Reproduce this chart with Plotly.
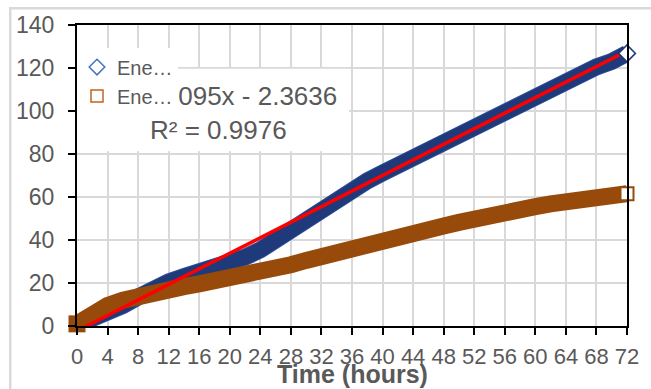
import plotly.graph_objects as go

# ---- data ----
hours = [0, 2, 4, 6, 8, 10, 12, 14, 16, 18, 20, 22, 24, 26, 28, 30, 32, 34, 36,
         38, 40, 42, 44, 46, 48, 50, 52, 54, 56, 58, 60, 62, 64, 66, 68, 70, 72]
series_blue = [0.5, 3, 6, 9.5, 13.5, 17.5, 20.5, 23, 25, 27.5, 29.7, 32, 35.4, 40,
               45.5, 50.5, 55.5, 59.8, 63.8, 67.5, 71.2, 74.8, 78.5, 81.8, 85, 88.3,
               91.8, 95.8, 99.8, 103.5, 107.5, 111.5, 115.2, 118, 120.5, 123, 126.8]
series_brown = [1, 5.5, 9.5, 12, 14, 15.5, 17, 18.3, 19.6, 20.8, 22, 23.5, 25, 26.8,
                28.5, 30.5, 32.5, 34.5, 36.5, 38.3, 40, 41.8, 43.5, 45, 46.5, 48.2,
                50, 51.5, 53, 54.3, 55.5, 56.8, 58, 59, 60, 60.8, 61.5]
legend_names = ["Ene…", "Ene…"]
trend_slope = 1.8095
trend_intercept = -2.3636
trend_r2 = 0.9976
x_ticks = list(range(0, 73, 4))
y_ticks = list(range(0, 141, 20))

BLUE = "#1F3A7A"
BLUE_EDGE = "#2E4D95"
BROWN = "#974A0A"
GRAY = "#595959"
FONT = "Arial, Liberation Sans, sans-serif"

fig = go.Figure()

# blue band (edge + core)
fig.add_trace(go.Scatter(x=hours, y=series_blue, mode="lines",
                         line=dict(color=BLUE_EDGE, width=17), showlegend=False,
                         hoverinfo="skip"))
fig.add_trace(go.Scatter(x=hours, y=series_blue, mode="lines",
                         line=dict(color=BLUE, width=15), showlegend=False,
                         hoverinfo="skip"))
# brown band
fig.add_trace(go.Scatter(x=hours, y=series_brown, mode="lines",
                         line=dict(color=BROWN, width=17), showlegend=False,
                         hoverinfo="skip"))
fig.add_trace(go.Scatter(x=hours[:1], y=series_brown[:1], mode="markers",
                         marker=dict(symbol="square", size=17, color=BROWN,
                                     line=dict(width=0)),
                         cliponaxis=False, showlegend=False, hoverinfo="skip"))

# trendline
fig.add_trace(go.Scatter(x=[hours[0], hours[-1]],
                         y=[trend_slope * hours[0] + trend_intercept,
                            trend_slope * hours[-1] + trend_intercept],
                         mode="lines", line=dict(color="#FF0000", width=3.5),
                         showlegend=False, hoverinfo="skip"))

# end markers (last point of each series)
fig.add_trace(go.Scatter(x=hours[-1:], y=series_blue[-1:], mode="markers",
                         marker=dict(symbol="diamond", size=13, color="white",
                                     line=dict(color=BLUE, width=1.5)),
                         cliponaxis=False, showlegend=False))
fig.add_trace(go.Scatter(x=hours[-1:], y=series_brown[-1:], mode="markers",
                         marker=dict(symbol="square", size=13, color="white",
                                     line=dict(color=BROWN, width=2)),
                         cliponaxis=False, showlegend=False))

# trendline label box + text on an overlay (paper-like) subplot,
# so the legend sits on top of it like in the original
box_x = [0.012, 0.4946, 0.4946, 0.012, 0.012]
box_y = [(326 - 150) / 303, (326 - 150) / 303, (326 - 67) / 303, (326 - 67) / 303,
         (326 - 150) / 303]
fig.add_trace(go.Scatter(x=box_x, y=box_y, xaxis="x2", yaxis="y2", mode="lines",
                         fill="toself", fillcolor="white", line=dict(width=0),
                         showlegend=False, hoverinfo="skip"))
fig.add_trace(go.Scatter(x=[0.257], y=[0.70], xaxis="x2", yaxis="y2", mode="text",
                         text=[f"y = {trend_slope:.4f}x - {abs(trend_intercept):.4f}"
                               f"<br>R² = {trend_r2:.4f}"],
                         textposition="middle center",
                         textfont=dict(size=26, color=GRAY, family=FONT),
                         cliponaxis=False, showlegend=False, hoverinfo="skip"))

# legend entries
fig.add_trace(go.Scatter(x=[None], y=[None], mode="markers", name=legend_names[0],
                         marker=dict(symbol="diamond", size=12, color="white",
                                     line=dict(color="#4472C4", width=1.5))))
fig.add_trace(go.Scatter(x=[None], y=[None], mode="markers", name=legend_names[1],
                         marker=dict(symbol="square", size=12, color="white",
                                     line=dict(color="#C0641E", width=1.5))))

fig.update_layout(
    width=651, height=389,
    margin=dict(l=77, r=22, t=23, b=63),
    paper_bgcolor="white", plot_bgcolor="white",
    font=dict(family=FONT, color=GRAY),
    showlegend=True,
    legend=dict(x=0.0, xanchor="left", y=0.925, yanchor="top",
                bgcolor="white", borderwidth=0,
                font=dict(size=20, color=GRAY, family=FONT),
                itemwidth=30, tracegroupgap=0),
    xaxis=dict(range=[0, 72], tickvals=x_ticks, ticktext=[str(v) for v in x_ticks],
               showgrid=True, gridcolor="#D9D9D9", gridwidth=1.5,
               showline=True, linecolor="black", linewidth=2, mirror=True,
               ticks="outside", ticklen=7, tickwidth=2, tickcolor="black",
               tickfont=dict(size=22, color=GRAY, family=FONT),
               ticklabelstandoff=3,
               zeroline=False),
    yaxis=dict(range=[0, 140], tickvals=y_ticks,
               showgrid=True, gridcolor="#D9D9D9", gridwidth=1.5,
               showline=True, linecolor="black", linewidth=2, mirror=True,
               ticks="outside", ticklen=7, tickwidth=2, tickcolor="black",
               tickfont=dict(size=23, color=GRAY, family=FONT),
               ticklabelstandoff=9,
               zeroline=False),
    xaxis2=dict(overlaying="x", range=[0, 1], visible=False, anchor="y2"),
    yaxis2=dict(overlaying="y", range=[0, 1], visible=False, anchor="x2"),
    shapes=[
        dict(type="rect", xref="paper", yref="paper",
             x0=-0.1214, x1=1.06, y0=-0.26, y1=1.056,
             line=dict(color="#D9D9D9", width=2.5), fillcolor="rgba(0,0,0,0)",
             layer="below"),
    ],
    annotations=[
        dict(xref="paper", yref="paper", x=0.5, xanchor="center",
             y=(326 - 374) / 303, yanchor="middle", text="<b>Time (hours)</b>",
             showarrow=False, font=dict(size=25, color=GRAY, family=FONT)),
    ],
)

fig.write_html("out.html", config={"displayModeBar": False},
               post_script="document.body.style.margin='0';")
